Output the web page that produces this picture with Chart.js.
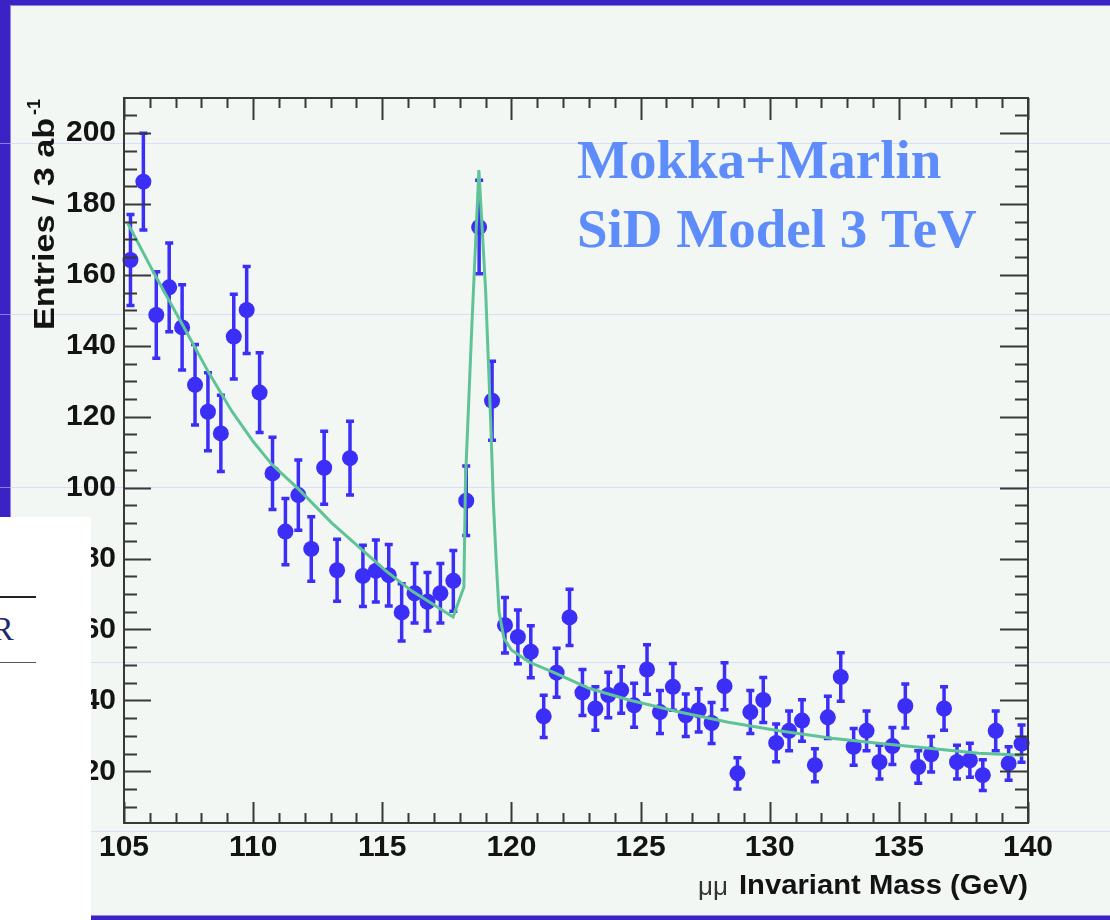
<!DOCTYPE html>
<html>
<head>
<meta charset="utf-8">
<script src="https://cdn.jsdelivr.net/npm/chart.js@4.4.1/dist/chart.umd.min.js"></script>
<style>
  html, body { margin: 0; padding: 0; }
  body { width: 1110px; height: 920px; position: relative; overflow: hidden; background: #3a22c4; }
  #panel { position: absolute; left: 11px; top: 6px; width: 1099px; height: 909px; background: #f3f7f4;
           box-shadow: 0 0 0 1px rgba(200,200,255,0.6); }
  .rule { position: absolute; left: 0; width: 1110px; height: 1px; background: rgba(200,200,250,0.55); }
  #plot { position: absolute; left: 0; top: 0; }
  #tableCut { position: absolute; left: 0; top: 517px; width: 91px; height: 403px; background: #ffffff; overflow: hidden; }
  #tableCut .line1 { position: absolute; left: 0; top: 79px; width: 36px; height: 2px; background: #222; }
  #tableCut .line2 { position: absolute; left: 0; top: 145px; width: 36px; height: 1px; background: #555; }
  #tableCut .cell { position: absolute; left: -9px; top: 92px; font: 34px "Liberation Serif", serif; color: #1d2c6e; line-height: 40px; }
</style>
</head>
<body>
<div id="panel"></div>
<div class="rule" style="top:143px"></div>
<div class="rule" style="top:314px"></div>
<div class="rule" style="top:487px"></div>
<div class="rule" style="top:662px"></div>
<div class="rule" style="top:831px"></div>
<canvas id="plot" width="1110" height="920" style="width:1110px;height:920px"></canvas>
<div id="tableCut">
  <div class="line1"></div>
  <div class="cell">R</div>
  <div class="line2"></div>
</div>
<script>
// Dimuon invariant mass histogram, 0.5 GeV bins
const binCenters = [
  105.25, 105.75, 106.25, 106.75, 107.25, 107.75, 108.25, 108.75, 109.25, 109.75,
  110.25, 110.75, 111.25, 111.75, 112.25, 112.75, 113.25, 113.75, 114.25, 114.75,
  115.25, 115.75, 116.25, 116.75, 117.25, 117.75, 118.25, 118.75, 119.25, 119.75,
  120.25, 120.75, 121.25, 121.75, 122.25, 122.75, 123.25, 123.75, 124.25, 124.75,
  125.25, 125.75, 126.25, 126.75, 127.25, 127.75, 128.25, 128.75, 129.25, 129.75,
  130.25, 130.75, 131.25, 131.75, 132.25, 132.75, 133.25, 133.75, 134.25, 134.75,
  135.25, 135.75, 136.25, 136.75, 137.25, 137.75, 138.25, 138.75, 139.25, 139.75
];
const entries = [
  164.2, 186.3, 148.7, 156.5, 145.2, 129.0, 121.4, 115.3, 142.6, 150.1,
  126.8, 104.0, 87.6, 97.9, 82.7, 105.6, 76.7, 108.3, 75.1, 76.5,
  75.3, 64.8, 70.2, 67.8, 70.2, 73.7, 96.3, 173.5, 124.5, 61.2,
  57.9, 53.7, 35.5, 47.8, 63.4, 42.2, 37.7, 41.5, 42.9, 38.6,
  48.7, 36.7, 43.8, 35.8, 37.2, 33.6, 44.0, 19.4, 36.7, 40.1,
  28.0, 31.4, 34.3, 21.7, 35.2, 46.6, 26.9, 31.4, 22.6, 27.1,
  38.4, 21.2, 24.8, 37.7, 22.6, 23.1, 18.9, 31.4, 22.2, 27.8
];

// Fitted signal + background curve
const fitMass = [
  105.15, 106.16, 107.24, 108.29, 109.18, 110.0, 110.73, 111.77, 113.05, 114.1,
  115.14, 116.15, 116.92, 117.74, 118.16, 118.22, 118.47, 118.74, 119.0, 119.2,
  119.3, 119.42, 119.52, 119.71, 120.0, 120.68, 121.7, 123.0, 124.55, 126.5,
  128.4, 130.35, 132.4, 134.2, 136.16, 138.1, 139.8
];
const fitEntries = [
  174.5, 160.5, 146.3, 132.3, 121.5, 113.0, 106.5, 99.5, 90.0, 83.2,
  76.5, 70.8, 67.3, 63.5, 72.0, 102.0, 146.0, 189.6, 155.8, 118.0,
  96.0, 78.0, 65.0, 57.5, 54.2, 50.8, 47.7, 43.4, 40.1, 36.7,
  33.8, 31.4, 29.3, 27.9, 26.5, 25.1, 24.5
];

const massTicks = [105, 110, 115, 120, 125, 130, 135, 140];
const entryTicks = [20, 40, 60, 80, 100, 120, 140, 160, 180, 200];

const markerBlue = '#3b2ef6';
const fitGreen = 'rgb(94,196,152)';
const axisInk = '#383838';
const labelInk = '#131313';

// Poisson error bars with small end caps, drawn under the markers
const errorBars = {
  id: 'errorBars',
  beforeDatasetDraw(chart, args) {
    if (args.index !== 0) return;
    const ctx = chart.ctx;
    const xs = chart.scales.x, ys = chart.scales.y;
    ctx.save();
    ctx.strokeStyle = markerBlue;
    ctx.lineWidth = 3.5;
    binCenters.forEach((m, i) => {
      const n = entries[i];
      const err = Math.sqrt(n);
      const px = xs.getPixelForValue(m);
      const yHi = ys.getPixelForValue(n + err);
      const yLo = ys.getPixelForValue(n - err);
      ctx.beginPath();
      ctx.moveTo(px, yHi); ctx.lineTo(px, yLo);
      ctx.moveTo(px - 4, yHi); ctx.lineTo(px + 4, yHi);
      ctx.moveTo(px - 4, yLo); ctx.lineTo(px + 4, yLo);
      ctx.stroke();
    });
    ctx.restore();
  }
};

// Closed frame with inward major/minor ticks on all four sides
const frame = {
  id: 'frame',
  afterDatasetsDraw(chart) {
    const ctx = chart.ctx;
    const { left, right, top, bottom } = chart.chartArea;
    const xs = chart.scales.x, ys = chart.scales.y;
    ctx.save();
    ctx.strokeStyle = axisInk;
    ctx.lineWidth = 2;
    ctx.beginPath();
    for (let m = xs.min; m <= xs.max + 1e-9; m += 1) {
      const px = Math.round(xs.getPixelForValue(m)) + 0.5;
      const major = Math.abs(m % 5) < 1e-9;
      ctx.moveTo(px, bottom); ctx.lineTo(px, bottom - (major ? 21 : 10));
      ctx.moveTo(px, top); ctx.lineTo(px, top + (major ? 22 : 10));
    }
    for (let v = 5; v <= ys.max; v += 5) {
      if (v < ys.min) continue;
      const py = Math.round(ys.getPixelForValue(v)) + 0.5;
      const major = v % 20 === 0;
      ctx.moveTo(left, py); ctx.lineTo(left + (major ? 27 : 13), py);
      ctx.moveTo(right, py); ctx.lineTo(right - (major ? 28 : 13), py);
    }
    ctx.stroke();
    ctx.strokeRect(left, top, right - left, bottom - top);
    ctx.restore();
  }
};

// Axis titles and the generator caption
const captions = {
  id: 'captions',
  afterDraw(chart) {
    const ctx = chart.ctx;
    ctx.save();
    ctx.fillStyle = '#5e8cfb';
    ctx.font = 'bold 55px "Liberation Serif"';
    ctx.textAlign = 'left';
    ctx.textBaseline = 'alphabetic';
    ctx.fillText('Mokka+Marlin', 577, 178);
    ctx.fillText('SiD Model 3 TeV', 577, 247);
    ctx.restore();

    // vertical title
    ctx.save();
    ctx.fillStyle = labelInk;
    ctx.translate(54, 330);
    ctx.rotate(-Math.PI / 2);
    ctx.font = 'bold 29px "Liberation Sans"';
    ctx.textBaseline = 'alphabetic';
    const yMain = 'Entries / 3 ab';
    const yw = ctx.measureText(yMain).width;
    ctx.save();
    ctx.scale(212 / yw, 1);
    ctx.fillText(yMain, 0, 0);
    ctx.restore();
    ctx.font = 'bold 18px "Liberation Sans"';
    ctx.fillText('-1', 215, -14);
    ctx.restore();

    // horizontal title
    ctx.save();
    ctx.textBaseline = 'alphabetic';
    ctx.fillStyle = '#333';
    ctx.font = '26px "Liberation Sans"';
    ctx.fillText('\u03bc\u03bc', 698, 895);
    ctx.fillStyle = labelInk;
    ctx.font = 'bold 28px "Liberation Sans"';
    const xMain = 'Invariant Mass (GeV)';
    const xw = ctx.measureText(xMain).width;
    ctx.translate(739, 894);
    ctx.scale(289 / xw, 1);
    ctx.fillText(xMain, 0, 0);
    ctx.restore();
  }
};

const tickFont = { family: 'Liberation Sans', size: 30, weight: 'bold' };

new Chart(document.getElementById('plot'), {
  type: 'scatter',
  data: {
    datasets: [
      {
        label: 'Entries',
        data: binCenters.map((m, i) => ({ x: m, y: entries[i] })),
        pointRadius: 8,
        pointBackgroundColor: markerBlue,
        pointBorderWidth: 0,
        showLine: false,
        order: 1,
        clip: false
      },
      {
        type: 'line',
        label: 'Fit',
        data: fitMass.map((m, i) => ({ x: m, y: fitEntries[i] })),
        borderColor: fitGreen,
        borderWidth: 3,
        pointRadius: 0,
        tension: 0,
        fill: false,
        order: 0
      }
    ]
  },
  options: {
    responsive: false,
    animation: false,
    events: [],
    layout: { padding: { left: 0, top: 98, right: 82, bottom: 0 } },
    plugins: { legend: { display: false }, tooltip: { enabled: false } },
    scales: {
      x: {
        type: 'linear',
        position: 'bottom',
        min: 105,
        max: 140,
        afterBuildTicks: s => { s.ticks = massTicks.map(v => ({ value: v })); },
        afterFit: s => { s.height = 97; },
        grid: { display: false, drawTicks: false },
        border: { display: false },
        ticks: { padding: 7, color: labelInk, font: tickFont, maxRotation: 0, autoSkip: false }
      },
      y: {
        type: 'linear',
        position: 'left',
        min: 5.4,
        max: 209.9,
        afterBuildTicks: s => { s.ticks = entryTicks.map(v => ({ value: v })); },
        afterFit: s => { s.width = 124; },
        grid: { display: false, drawTicks: false },
        border: { display: false },
        ticks: { padding: 8, color: labelInk, font: tickFont, autoSkip: false }
      }
    }
  },
  plugins: [errorBars, frame, captions]
});
</script>
</body>
</html>
